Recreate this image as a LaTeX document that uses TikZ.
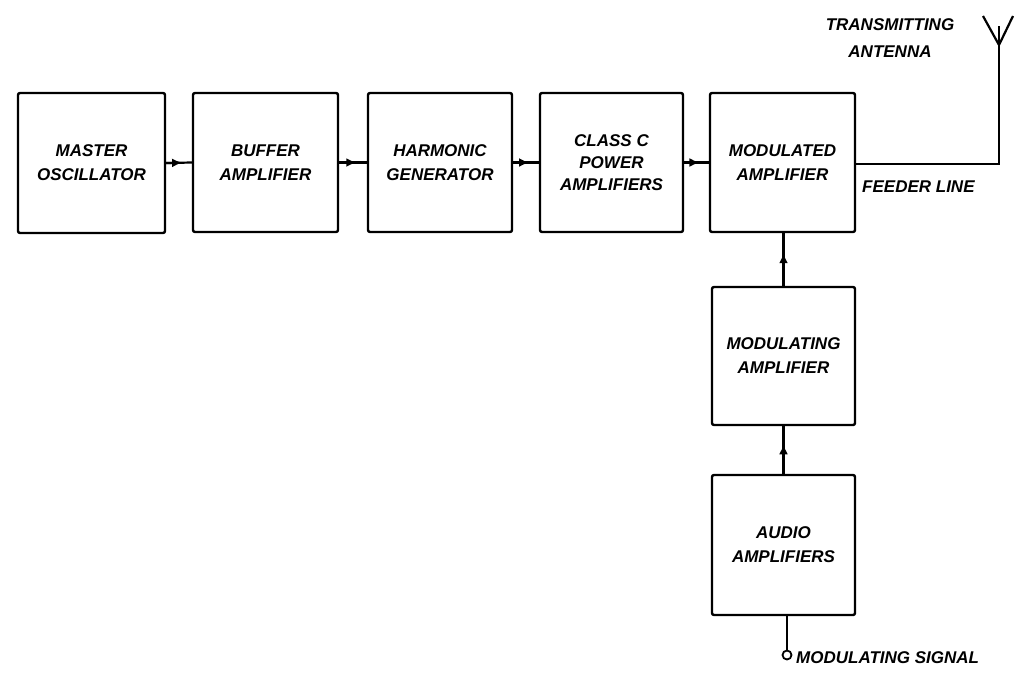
\documentclass[tikz,border=0pt]{standalone}
\usepackage{fontspec}
\setmainfont{Liberation Sans}
\usetikzlibrary{calc,arrows.meta}
\begin{document}
\begin{tikzpicture}[x=1pt,y=-1pt,
  blk/.style={draw,line width=2.4pt,rounded corners=2pt,inner sep=0pt,align=center,
    font=\fontsize{17}{24}\selectfont\bfseries\itshape},
  wire/.style={line width=2.2pt},
  tip/.style={wire,-{Latex[length=10pt,width=9pt]}},
  lbl/.style={font=\fontsize{17}{27}\selectfont\bfseries\itshape,inner sep=0pt,align=center}]
\useasboundingbox (0,0) rectangle (1015,673);
\node[blk,minimum width=147pt,minimum height=140pt] (mo) at (91.5,163) {MASTER\\OSCILLATOR};
\node[blk,minimum width=145pt,minimum height=139pt] (ba) at (265.5,162.5) {BUFFER\\AMPLIFIER};
\node[blk,minimum width=144pt,minimum height=139pt] (hg) at (440,162.5) {HARMONIC\\GENERATOR};
\node[blk,minimum width=143pt,minimum height=139pt,font=\fontsize{17}{22}\selectfont\bfseries\itshape] (cc) at (611.5,162.5) {CLASS C\\POWER\\AMPLIFIERS};
\node[blk,minimum width=145pt,minimum height=139pt] (ma) at (782.5,162.5) {MODULATED\\AMPLIFIER};
\node[blk,minimum width=143pt,minimum height=138pt] (mg) at (783.5,356) {MODULATING\\AMPLIFIER};
\node[blk,minimum width=143pt,minimum height=140pt] (aa) at (783.5,545) {AUDIO\\AMPLIFIERS};
\foreach \a/\b in {mo/ba,ba/hg,hg/cc,cc/ma} {
  \draw[wire] (\a.east) -- (\b.west);
  \draw[tip] (\a.east) -- ($(\a.east)!0.62!(\b.west)$);
}
\foreach \a/\b in {mg/ma,aa/mg} {
  \draw[wire] (\a.north) -- (\a.north |- \b.south);
  \draw[tip] (\a.north) -- ($(\a.north)!0.62!(\a.north |- \b.south)$);
}
% feeder line and antenna
\coordinate (ant) at (999,45);
\draw[wire] (ma.east |- 0,164) -- (999,164) -- (ant);
\draw[wire] (983,16) -- (ant) -- (1013,16);
\draw[wire] (ant) -- (999,26);
\node[lbl] (tx) at (890,38) {TRANSMITTING\\ANTENNA};
\node[lbl,anchor=west] (fl) at (862,187) {FEEDER LINE};
% modulating signal input
\node[circle,draw,line width=1.8pt,minimum size=9pt,inner sep=0pt] (in) at (787,655) {};
\draw[wire] (aa.south -| in) -- (in);
\node[lbl,anchor=west] (ms) at (796,658) {MODULATING SIGNAL};
\end{tikzpicture}
\end{document}
